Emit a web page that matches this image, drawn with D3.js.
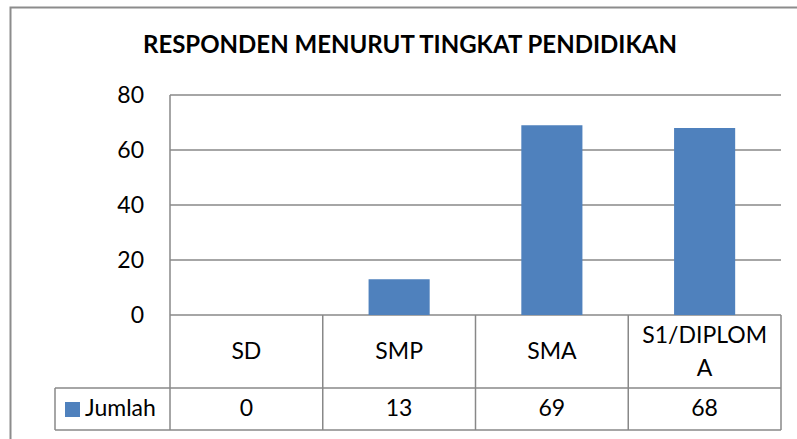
<!DOCTYPE html>
<html>
<head>
<meta charset="utf-8">
<script src="https://cdn.jsdelivr.net/npm/d3@7"></script>
<style>
  body { margin: 0; background: #fff; }
  svg { display: block; font-family: Lato, "Open Sans", sans-serif; }
</style>
</head>
<body>
<div id="chart"></div>
<script>
// data
var categories = ["SD", "SMP", "SMA", "S1/DIPLOMA"];
var jumlah = [0, 13, 69, 68];
var seriesName = "Jumlah";
var yTicks = [0, 20, 40, 60, 80];
var title = "RESPONDEN MENURUT TINGKAT PENDIDIKAN";

var width = 797, height = 439;
var margin = {top: 95, right: 16, left: 170};
var plotBottom = 315;
var headerBottom = 388;
var rowBottom = 430;
var legendLeft = 55;
var lineColor = "#888888";
var barColor = "#4f81bd";
var fontSize = "23px";

var svg = d3.select("#chart")
  .append("svg")
    .attr("width", width)
    .attr("height", height);

// outer chart border (right and bottom are cut off in the picture)
svg.append("rect")
  .attr("x", 10.5)
  .attr("y", 7.5)
  .attr("width", 800)
  .attr("height", 450)
  .attr("fill", "none")
  .attr("stroke", "#8c8c8c")
  .attr("stroke-width", 2);

svg.append("text")
  .attr("x", 410)
  .attr("y", 53)
  .attr("text-anchor", "middle")
  .style("font-weight", "bold")
  .style("font-size", "24px")
  .text(title);

var x = d3.scaleBand()
  .domain(categories)
  .range([margin.left, width - margin.right])
  .paddingInner(0.6)
  .paddingOuter(0.3);

var y = d3.scaleLinear()
  .domain([0, 80])
  .range([plotBottom, margin.top]);

var step = x.step();
function cellLeft(d) { return x(d) - x.paddingOuter() * step; }

// gridlines
svg.append("g")
  .selectAll("line")
  .data(yTicks)
  .enter()
  .append("line")
    .attr("x1", margin.left)
    .attr("x2", width - margin.right)
    .attr("y1", function(d) { return y(d); })
    .attr("y2", function(d) { return y(d); })
    .attr("stroke", lineColor)
    .attr("stroke-width", 1.5);

// y axis line
svg.append("line")
  .attr("x1", margin.left).attr("x2", margin.left)
  .attr("y1", margin.top).attr("y2", plotBottom)
  .attr("stroke", lineColor)
  .attr("stroke-width", 1.5);

// y tick labels
svg.append("g")
  .selectAll("text")
  .data(yTicks)
  .enter()
  .append("text")
    .attr("x", 144)
    .attr("y", function(d) { return y(d); })
    .attr("dy", "0.35em")
    .attr("text-anchor", "end")
    .style("font-size", fontSize)
    .text(function(d) { return d; });

// bars
svg.append("g")
  .selectAll("rect")
  .data(jumlah)
  .enter()
  .append("rect")
    .attr("x", function(d, i) { return x(categories[i]); })
    .attr("y", function(d) { return y(d); })
    .attr("width", x.bandwidth())
    .attr("height", function(d) { return y(0) - y(d); })
    .attr("fill", barColor);

// data table lines
var table = svg.append("g")
  .attr("stroke", lineColor)
  .attr("stroke-width", 1.5);

var colEdges = categories.map(cellLeft).concat([width - margin.right]);
colEdges.forEach(function(cx) {
  table.append("line")
    .attr("x1", cx).attr("x2", cx)
    .attr("y1", plotBottom).attr("y2", rowBottom);
});
table.append("line")
  .attr("x1", legendLeft).attr("x2", legendLeft)
  .attr("y1", headerBottom).attr("y2", rowBottom);
[headerBottom, rowBottom].forEach(function(ry) {
  table.append("line")
    .attr("x1", legendLeft).attr("x2", width - margin.right)
    .attr("y1", ry).attr("y2", ry);
});

// category labels, wrapped by character when too wide for the cell
var header = svg.append("g");
categories.forEach(function(c) {
  var cx = x(c) + x.bandwidth() / 2;
  var t = header.append("text")
    .attr("text-anchor", "middle")
    .style("font-size", fontSize);
  var lines = [];
  var cur = "";
  var probe = t.append("tspan");
  c.split("").forEach(function(ch) {
    probe.text(cur + ch);
    if (probe.node().getComputedTextLength() > step - 24 && cur.length) {
      lines.push(cur);
      cur = ch;
    } else {
      cur += ch;
    }
  });
  lines.push(cur);
  probe.remove();
  var lineH = 33;
  var firstBase = 359 - (lines.length - 1) * lineH / 2;
  lines.forEach(function(l, i) {
    t.append("tspan")
      .attr("x", cx)
      .attr("y", firstBase + i * lineH)
      .text(l);
  });
});

// value row
svg.append("g")
  .selectAll("text")
  .data(jumlah)
  .enter()
  .append("text")
    .attr("x", function(d, i) { return x(categories[i]) + x.bandwidth() / 2; })
    .attr("y", 416)
    .attr("text-anchor", "middle")
    .style("font-size", fontSize)
    .text(function(d) { return d; });

// legend key in the table
svg.append("rect")
  .attr("x", 65)
  .attr("y", 402)
  .attr("width", 15)
  .attr("height", 15)
  .attr("fill", barColor);
svg.append("text")
  .attr("x", 85)
  .attr("y", 416)
  .style("font-size", fontSize)
  .text(seriesName);
</script>
</body>
</html>
